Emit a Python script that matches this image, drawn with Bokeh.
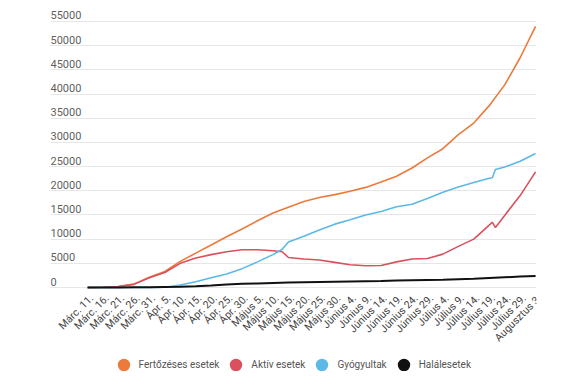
from bokeh.plotting import figure
from bokeh.models import (ColumnDataSource, FixedTicker, Range1d, Legend, LegendItem)
from bokeh.core.properties import value
from bokeh.embed import file_html
from bokeh.resources import INLINE

# ---- data (day offset from 2020-03-11) ----
tick_days = [0, 5, 10, 15, 20, 25, 30, 35, 40, 45, 50, 55, 60, 65, 70, 75, 80, 85,
             90, 95, 100, 105, 110, 115, 120, 125, 130, 135, 140, 145]
tick_labels = ["Márc. 11.", "Márc. 16.", "Márc. 21.", "Márc. 26.", "Márc. 31.",
               "Ápr. 5.", "Ápr. 10.", "Ápr. 15.", "Ápr. 20.", "Ápr. 25.", "Ápr. 30.",
               "Május 5.", "Május 10.", "Május 15.", "Május 20.", "Május 25.", "Május 30.",
               "Június 4.", "Június 9.", "Június 14.", "Június 19.", "Június 24.", "Június 29.",
               "Július 4.", "Július 9.", "Július 14.", "Július 19.", "Július 24.", "Július 29.",
               "Augusztus 3."]

fert_days = tick_days
fert_vals = [0, 50, 200, 700, 2100, 3300, 5400, 7100, 8800, 10500, 12100, 13800, 15400,
             16600, 17800, 18600, 19200, 19900, 20700, 21800, 23000, 24700, 26800, 28700,
             31600, 34000, 37600, 41900, 47500, 54000]

akt_days = [0, 5, 10, 15, 20, 25, 30, 35, 40, 45, 50, 55, 60, 63, 65, 70, 75, 80, 85,
            90, 95, 100, 105, 110, 115, 120, 125, 130, 131, 132, 135, 140, 145]
akt_vals = [0, 50, 190, 650, 2000, 3100, 5000, 6100, 6800, 7400, 7800, 7800, 7600, 7400,
            6200, 5900, 5700, 5200, 4700, 4500, 4550, 5300, 5900, 6000, 6900, 8500, 10000,
            12900, 13500, 12400, 14900, 19000, 23900]

gyo_days = [0, 5, 10, 15, 20, 25, 30, 35, 40, 45, 50, 55, 60, 63, 65, 70, 75, 80, 85,
            90, 95, 100, 105, 110, 115, 120, 125, 130, 131, 132, 135, 140, 145]
gyo_vals = [0, 0, 0, 0, 0, 50, 500, 1200, 2000, 2800, 3900, 5300, 6800, 7900, 9400,
            10600, 11900, 13100, 14000, 15000, 15700, 16700, 17200, 18400, 19700, 20800,
            21700, 22600, 22700, 24400, 24900, 26100, 27700]

hal_days = tick_days
hal_vals = [0, 0, 10, 30, 60, 100, 150, 250, 400, 600, 750, 850, 950, 1050, 1100, 1150,
            1200, 1250, 1300, 1350, 1450, 1500, 1550, 1600, 1700, 1800, 1950, 2100, 2250, 2400]

y_ticks = [0, 5000, 10000, 15000, 20000, 25000, 30000, 35000, 40000, 45000, 50000, 55000]

series_names = ["Fertőzéses esetek", "Aktív esetek", "Gyógyultak", "Halálesetek"]
series_colors = ["#EC7A3C", "#D9515C", "#5DB8E6", "#111111"]

# ---- figure (frame reaches the bottom so tick labels and legend sit inside it) ----
x_min, x_max = -12.0, 145.3
p = figure(width=559, height=371, output_backend="svg", toolbar_location=None,
           x_range=Range1d(x_min, x_max), y_range=Range1d(-17368, 57274),
           x_axis_location=None, y_axis_location=None,
           min_border_left=50, min_border_right=23, min_border_top=10,
           min_border_bottom=0)
p.outline_line_color = None
p.xgrid.visible = False
p.ygrid.ticker = FixedTicker(ticks=y_ticks)
p.ygrid.grid_line_color = "#e6e6e6"
p.ygrid.grid_line_width = 1

# y tick labels drawn above the grid lines
ysrc = ColumnDataSource(dict(x=[x_min] * len(y_ticks), y=y_ticks,
                             t=[str(v) for v in y_ticks]))
p.text(x="x", y="y", text="t", source=ysrc, text_align="left", text_baseline="bottom",
       y_offset=-2, text_font=value("Roboto"), text_font_size="11px",
       text_color="#5f5f5f")

# x tick labels, rotated 45 degrees, ending at each tick
xsrc = ColumnDataSource(dict(x=tick_days, y=[0] * len(tick_days), t=tick_labels))
p.text(x="x", y="y", text="t", source=xsrc, angle=0.785398, text_align="right",
       text_baseline="middle", x_offset=4, y_offset=9, text_font=value("Roboto"),
       text_font_size="10.5px", text_color="#444444")

data = [(fert_days, fert_vals), (akt_days, akt_vals), (gyo_days, gyo_vals),
        (hal_days, hal_vals)]
items = []
for (dx, dy), name, col in zip(data, series_names, series_colors):
    p.line(dx, dy, line_color=col, line_width=2 if col == "#111111" else 1.6)
    # zero-size marker at the series' last point: only its legend swatch is seen
    r = p.scatter(x=dx[-1:], y=dy[-1:], size=0, marker="circle", fill_color=col,
                  line_alpha=0)
    items.append(LegendItem(label=name, renderers=[r]))

legend = Legend(items=items, location=(57.5, -10), orientation="horizontal",
                glyph_width=31, glyph_height=33, label_standoff=0, spacing=1,
                padding=0, margin=0, border_line_alpha=0, background_fill_alpha=0,
                label_text_font="Roboto", label_text_font_size="10px",
                label_text_color="#555555")
p.add_layout(legend)

open("out.html", "w").write(file_html(p, INLINE))
